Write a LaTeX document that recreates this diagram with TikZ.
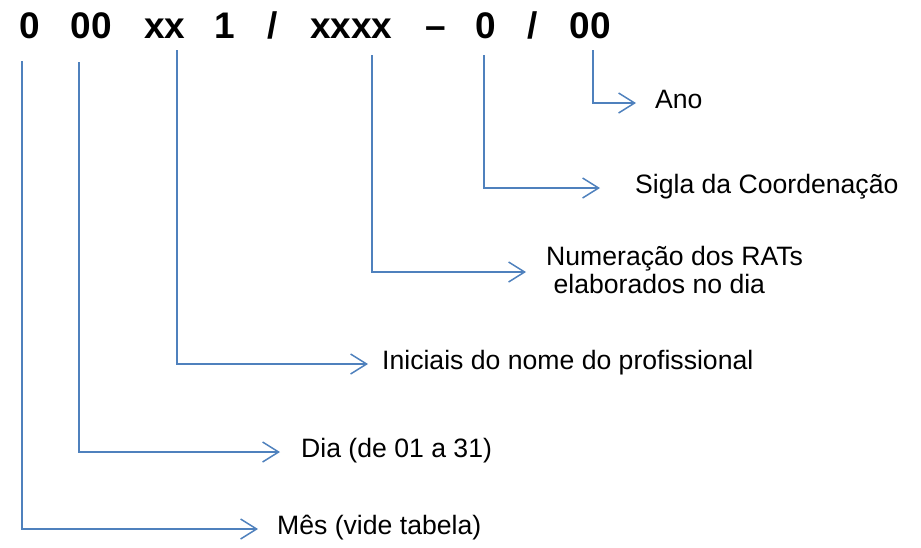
\documentclass[tikz,border=0pt]{standalone}
\usepackage{fontspec}
\setmainfont{Liberation Sans}
\usetikzlibrary{arrows.meta}
\definecolor{lineblue}{RGB}{79,129,189}
\begin{document}
\begin{tikzpicture}[x=1pt,y=-1pt,
  code/.style={anchor=base west,inner sep=0pt,font=\fontsize{37}{44}\selectfont\bfseries},
  lbl/.style={anchor=west,inner sep=0pt,font=\fontsize{26.6}{30}\selectfont,text height=16pt,text depth=6pt},
  conn/.style={draw=lineblue,line width=1.5pt,-{Straight Barb[length=16pt,width=20pt]}}]
\useasboundingbox (0,0) rectangle (921,547);
% code string
\node[code] (t1) at (19.5,38) {0};
\node[code] (t2) at (70.5,38) {00};
\node[code] (t3) at (144,38) {xx};
\node[code] (t4) at (214,38) {1};
\node[code] (t5) at (267,38) {/};
\node[code] (t6) at (310,38) {xxxx};
\node[code] (t7) at (425,38) {–};
\node[code] (t8) at (475.5,38) {0};
\node[code] (t9) at (527,38) {/};
\node[code] (t10) at (569.5,38) {00};
% line starts
\coordinate (cMes) at (22,61);
\coordinate (cDia) at (79,62);
\coordinate (cIni) at (177,50);
\coordinate (cNum) at (372,55);
\coordinate (cSig) at (484,55);
\coordinate (cAno) at (593,50);
% labels
\node[lbl] (mes) at (277,529) {Mês (vide tabela)};
\node[lbl] (dia) at (301,452) {Dia (de 01 a 31)};
\node[lbl] (ini) at (382,364) {Iniciais do nome do profissional};
\node[lbl] (num1) at (546,260) {Numeração dos RATs};
\node[lbl] (num2) at (546,288) {\ elaborados no dia};
\node[lbl] (sig) at (635,188) {Sigla da Coordenação};
\node[lbl] (ano) at (655,103) {Ano};
% connectors
\draw[conn] (cMes) |- ([xshift=-19pt]mes.west);
\draw[conn] (cDia) |- ([xshift=-21pt]dia.west);
\draw[conn] (cIni) |- ([xshift=-14pt]ini.west);
\draw[conn] (cNum) |- ([xshift=-20pt,yshift=-12pt]num1.west);
\draw[conn] (cSig) |- ([xshift=-35pt]sig.west);
\draw[conn] (cAno) |- ([xshift=-19pt]ano.west);
\end{tikzpicture}
\end{document}
